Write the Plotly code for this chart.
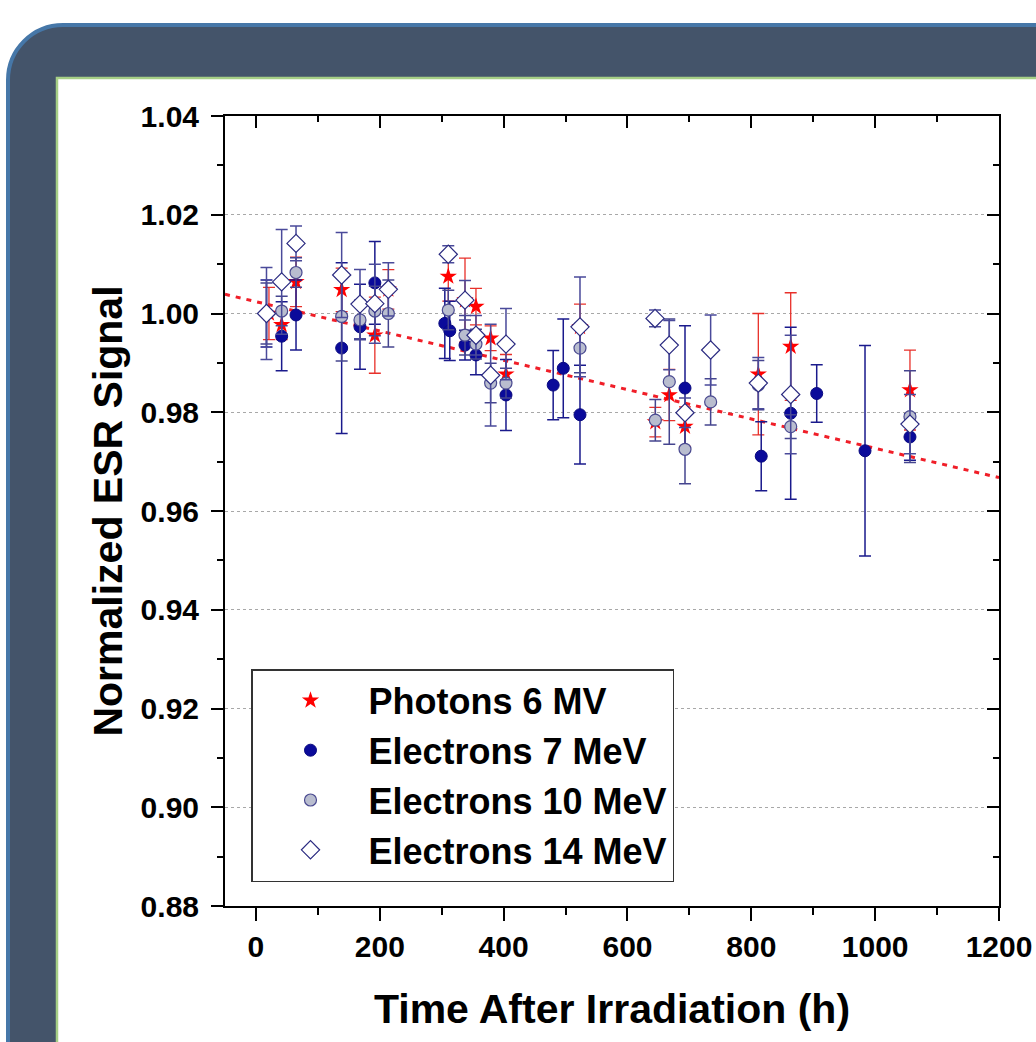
import plotly.graph_objects as go

# ---------------- data ----------------
ph_x = [21, 41.5, 64.7, 138.4, 192, 213.8, 310.6, 337.6, 355.3, 379, 403.8, 523.3, 645, 667.5, 692.9, 811.3, 863.6, 1056.2]
ph_y = [1.0000, 0.9977, 1.0064, 1.0048, 0.9956, 1.0049, 1.0075, 1.0027, 1.0014, 0.9950, 0.9877, 0.9973, 0.9780, 0.9835, 0.9771, 0.9877, 0.9933, 0.9845]
ph_e = [0.0053, 0.0030, 0.0050, 0.0044, 0.0077, 0.0040, 0.0050, 0.0085, 0.0037, 0.0025, 0.0040, 0.0046, 0.0030, 0.0052, 0.0040, 0.0123, 0.0109, 0.0081]

e7_x = [17, 41.5, 64.7, 138.4, 168, 192, 305, 313, 337.6, 355.3, 403.8, 480, 496.3, 523.3, 692.9, 816, 863.6, 905.6, 983.6, 1056.2]
e7_y = [1.0000, 0.9954, 0.9997, 0.9930, 0.9973, 1.0062, 0.9980, 0.9965, 0.9936, 0.9916, 0.9835, 0.9855, 0.9889, 0.9795, 0.9849, 0.9711, 0.9798, 0.9838, 0.9722, 0.9750]
e7_e = [0.0068, 0.0070, 0.0071, 0.0173, 0.0086, 0.0084, 0.0071, 0.0060, 0.0030, 0.0040, 0.0072, 0.0070, 0.0100, 0.0100, 0.0126, 0.0070, 0.0174, 0.0058, 0.0213, 0.0047]

e10_x = [17, 41.5, 64.7, 138.4, 168, 192, 213.8, 310.6, 337.6, 355.3, 379, 403.8, 523.3, 645, 667.5, 692.9, 734.3, 811.3, 863.6, 1056.2]
e10_y = [1.0000, 1.0005, 1.0083, 0.9994, 0.9987, 1.0005, 1.0000, 1.0007, 0.9956, 0.9938, 0.9859, 0.9859, 0.9930, 0.9784, 0.9862, 0.9725, 0.9821, 0.9855, 0.9771, 0.9791]
e10_e = [0.0062, 0.0030, 0.0030, 0.0090, 0.0040, 0.0050, 0.0068, 0.0040, 0.0040, 0.0030, 0.0040, 0.0030, 0.0050, 0.0042, 0.0127, 0.0070, 0.0047, 0.0050, 0.0024, 0.0093]

e14_x = [17, 41.5, 64.7, 138.4, 168, 192, 213.8, 310.6, 337.6, 355.3, 379, 403.8, 523.3, 644.5, 667.5, 692.9, 734.3, 811.3, 863.6, 1056.2]
e14_y = [1.0000, 1.0064, 1.0142, 1.0078, 1.0019, 1.0020, 1.0049, 1.0120, 1.0027, 0.9956, 0.9875, 0.9938, 0.9973, 0.9990, 0.9936, 0.9799, 0.9926, 0.9859, 0.9836, 0.9776]
e14_e = [0.0093, 0.0106, 0.0035, 0.0086, 0.0070, 0.0080, 0.0054, 0.0017, 0.0040, 0.0040, 0.0103, 0.0072, 0.0101, 0.0017, 0.0050, 0.0030, 0.0071, 0.0052, 0.0120, 0.0060]

fit_intercept = 1.0024
fit_slope = -2.97e-5
fit_x = [-50, 1200]

series_names = ["Photons 6 MV", "Electrons 7 MeV", "Electrons 10 MeV", "Electrons 14 MeV"]

x_range = [-50, 1200]
y_range = [0.88, 1.04]
x_tickvals = [0, 200, 400, 600, 800, 1000, 1200]
y_tickvals = [0.88, 0.90, 0.92, 0.94, 0.96, 0.98, 1.00, 1.02, 1.04]

# ---------------- figure ----------------
W, H = 1036, 1042
L, R, T, B = 225, 999, 116, 906
FONT = "Liberation Sans, Arial, sans-serif"

def px(x, y):
    return (x - L) / (R - L), (B - y) / (B - T)

fig = go.Figure()

fig.add_trace(go.Scatter(
    x=fit_x, y=[fit_intercept + fit_slope * v for v in fit_x],
    mode="lines", line=dict(color="#F01E28", width=3, dash="5px,6px"),
    showlegend=False, hoverinfo="skip"))

fig.add_trace(go.Scatter(
    x=ph_x, y=ph_y, mode="markers", name=series_names[0],
    marker=dict(symbol="star", size=13, color="#FF0000", line=dict(width=0)),
    error_y=dict(type="data", array=ph_e, color="#E8302A", thickness=1.3, width=6)))

fig.add_trace(go.Scatter(
    x=e7_x, y=e7_y, mode="markers", name=series_names[1],
    marker=dict(symbol="circle", size=12, color="#0A0A9A", line=dict(width=1, color="#0A0A80")),
    error_y=dict(type="data", array=e7_e, color="#1A1A8C", thickness=1.5, width=6)))

fig.add_trace(go.Scatter(
    x=e10_x, y=e10_y, mode="markers", name=series_names[2],
    marker=dict(symbol="circle", size=12, color="#B9BDCF", line=dict(width=1.2, color="#4A4A90")),
    error_y=dict(type="data", array=e10_e, color="#45458F", thickness=1.5, width=6)))

fig.add_trace(go.Scatter(
    x=e14_x, y=e14_y, mode="markers", name=series_names[3],
    marker=dict(symbol="diamond", size=14, color="white", line=dict(width=1.2, color="#2A2A80")),
    error_y=dict(type="data", array=e14_e, color="#4A4A9A", thickness=1.5, width=6)))

# helper traces to register mirror axes
fig.add_trace(go.Scatter(x=[], y=[], xaxis="x2", yaxis="y", showlegend=False))
fig.add_trace(go.Scatter(x=[], y=[], xaxis="x", yaxis="y2", showlegend=False))

# frame shapes
def rounded_path(x0, y0, x1, y1, r):
    k = 0.5523 * r
    pts = []
    a = px(x0, y1); pts.append(f"M {a[0]:.5f},{a[1]:.5f}")
    a = px(x0, y0 + r); pts.append(f"L {a[0]:.5f},{a[1]:.5f}")
    c1 = px(x0, y0 + r - k); c2 = px(x0 + r - k, y0); e = px(x0 + r, y0)
    pts.append(f"C {c1[0]:.5f},{c1[1]:.5f} {c2[0]:.5f},{c2[1]:.5f} {e[0]:.5f},{e[1]:.5f}")
    a = px(x1, y0); pts.append(f"L {a[0]:.5f},{a[1]:.5f}")
    a = px(x1, y1); pts.append(f"L {a[0]:.5f},{a[1]:.5f}")
    pts.append("Z")
    return " ".join(pts)

shapes = [
    dict(type="path", xref="paper", yref="paper", layer="below",
         path=rounded_path(8, 25, 1100, 1100, 55),
         fillcolor="#44546A", line=dict(color="#4677A8", width=4)),
    dict(type="rect", xref="paper", yref="paper", layer="below",
         x0=px(57, 0)[0], x1=px(1100, 0)[0], y0=px(0, 1100)[1], y1=px(0, 78)[1],
         fillcolor="white", line=dict(color="#A6CF86", width=2.5)),
]

tickfont = dict(family=FONT, size=30, color="black", weight="bold")

fig.update_layout(
    width=W, height=H, autosize=False,
    margin=dict(l=L, r=W - R, t=T, b=H - B, pad=0, autoexpand=False),
    paper_bgcolor="white", plot_bgcolor="white",
    shapes=shapes,
    showlegend=True,
    legend=dict(x=px(251, 0)[0], y=px(0, 669)[1], xanchor="left", yanchor="top",
                bgcolor="white", bordercolor="#333333", borderwidth=1.5,
                font=dict(family=FONT, size=36, color="black", weight="bold"),
                itemwidth=106, tracegroupgap=0),
    xaxis=dict(range=x_range, tickvals=x_tickvals, ticks="outside", ticklen=13, tickwidth=2,
               tickcolor="black", showline=True, linewidth=2, linecolor="black",
               showgrid=False, zeroline=False, tickfont=tickfont, automargin=False,
               minor=dict(ticks="outside", dtick=100, tick0=0, ticklen=7, tickwidth=2, tickcolor="black"),
               title=dict(text="Time After Irradiation (h)", standoff=32,
                          font=dict(family=FONT, size=41, color="black", weight="bold"))),
    yaxis=dict(range=y_range, tickvals=y_tickvals, ticktext=[f"{v:.2f}" for v in y_tickvals],
               ticks="outside", ticklen=12, tickwidth=2,
               tickcolor="black", showline=True, linewidth=2, linecolor="black",
               showgrid=True, gridcolor="#A8A8A8", gridwidth=1, griddash="dot",
               zeroline=False, tickfont=tickfont, ticklabelstandoff=6, automargin=False,
               minor=dict(ticks="outside", dtick=0.01, tick0=0.88, ticklen=6, tickwidth=2, tickcolor="black", showgrid=False),
               title=dict(text="Normalized ESR Signal", standoff=5,
                          font=dict(family=FONT, size=41, color="black", weight="bold"))),
    xaxis2=dict(range=x_range, overlaying="x", side="top", anchor="y", tickvals=x_tickvals,
                ticks="inside", ticklen=12, tickwidth=2, tickcolor="black", automargin=False,
                showticklabels=False, showline=True, linewidth=2, linecolor="black",
                showgrid=False, zeroline=False,
                minor=dict(ticks="inside", dtick=100, tick0=0, ticklen=6, tickwidth=2, tickcolor="black")),
    yaxis2=dict(range=y_range, overlaying="y", side="right", anchor="x", tickvals=y_tickvals,
                ticks="inside", ticklen=12, tickwidth=2, tickcolor="black", automargin=False,
                showticklabels=False, showline=True, linewidth=2, linecolor="black",
                showgrid=False, zeroline=False,
                minor=dict(ticks="inside", dtick=0.01, tick0=0.88, ticklen=6, tickwidth=2, tickcolor="black")),
)

fig.write_html("out.html")
